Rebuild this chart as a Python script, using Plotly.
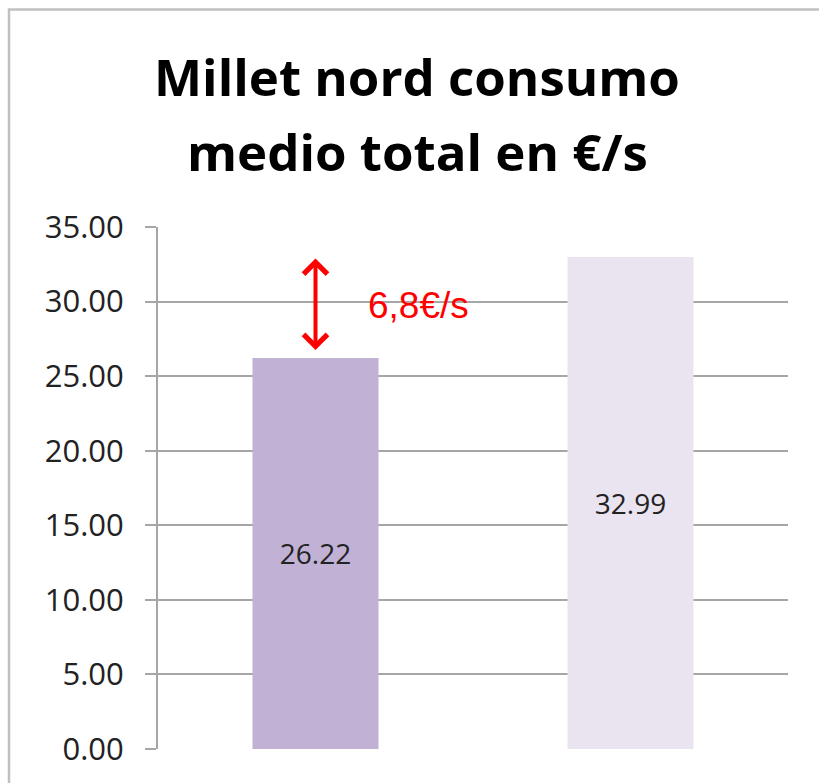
import plotly.graph_objects as go

# Data
categories = ["A", "B"]
values = [26.22, 32.99]
bar_colors = ["#c1b1d5", "#e9e4f0"]
title_lines = ["Millet nord consumo", "medio total en €/s"]
y_ticks = [0, 5, 10, 15, 20, 25, 30, 35]

diff = values[1] - values[0]
diff_label = f"{diff:.1f}".replace(".", ",") + "€/s"

fig = go.Figure()
fig.add_trace(go.Bar(
    x=categories,
    y=values,
    marker=dict(color=bar_colors, line=dict(width=0)),
    text=[f"{v:.2f}" for v in values],
    textposition="inside",
    insidetextanchor="middle",
    textfont=dict(family="Open Sans", size=28, color="#222222"),
    width=0.4,
    hoverinfo="skip",
))

grid_color = "#a6a6a6"

fig.update_layout(
    width=819,
    height=783,
    margin=dict(l=158, r=31, t=227, b=34),
    paper_bgcolor="white",
    plot_bgcolor="white",
    showlegend=False,
    xaxis=dict(
        showticklabels=False,
        showgrid=False,
        zeroline=False,
        ticks="",
    ),
    yaxis=dict(
        range=[0, 35],
        tickvals=y_ticks,
        tickformat=".2f",
        showgrid=True,
        gridcolor=grid_color,
        gridwidth=2,
        zeroline=False,
        showline=True,
        linecolor=grid_color,
        linewidth=2,
        ticks="outside",
        ticklen=11,
        tickwidth=2,
        tickcolor=grid_color,
        ticklabelstandoff=15,
        tickfont=dict(family="Open Sans", size=31, color="#222222"),
    ),
)

# Outer frame
fig.add_shape(
    type="rect", xref="paper", yref="paper",
    x0=-149 / 630, x1=1.2, y0=-0.2, y1=1 + (227 - 9.5) / 522,
    line=dict(color="#c0c0c0", width=2.5), fillcolor="rgba(0,0,0,0)",
    layer="below",
)

# Title
title_centers = [76, 151]
for line, cy in zip(title_lines, title_centers):
    fig.add_annotation(
        text=f"<b>{line}</b>",
        xref="paper", yref="paper",
        x=(417 - 158) / 630, y=1 + (227 - cy) / 522,
        xanchor="center", yanchor="middle",
        showarrow=False,
        font=dict(family="Open Sans", size=51, color="black"),
    )

# Difference arrow
fig.add_annotation(
    x=categories[0], y=values[0] + 0.53,
    ax=categories[0], ay=values[1],
    xref="x", yref="y", axref="x", ayref="y",
    text="", showarrow=True,
    arrowhead=4, startarrowhead=4, arrowside="end+start",
    arrowsize=1.15, startarrowsize=1.15,
    arrowwidth=4, arrowcolor="red",
)
fig.add_annotation(
    x=categories[0], y=29.77,
    xref="x", yref="y",
    text=diff_label, showarrow=False,
    xanchor="left", yanchor="middle", xshift=50,
    font=dict(family="Liberation Sans", size=37, color="red"),
)

fig.write_html("out.html")
